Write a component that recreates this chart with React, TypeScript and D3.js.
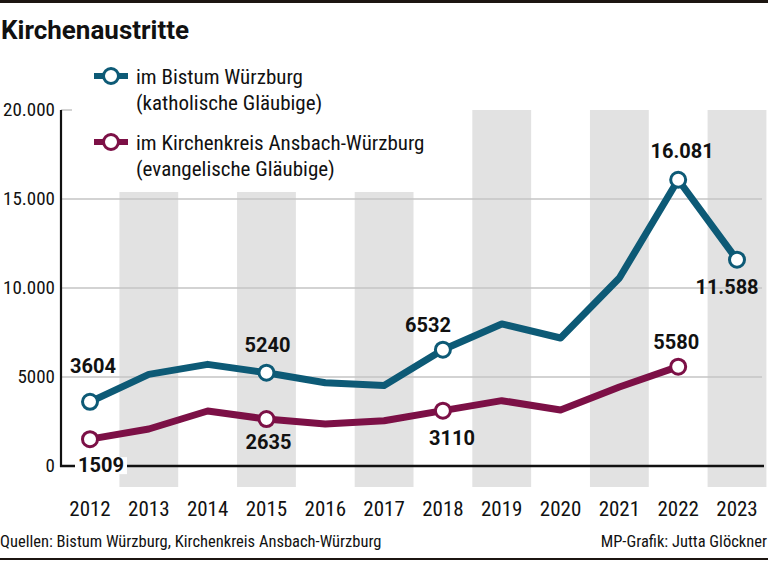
import React, { useEffect } from "react";
import * as d3 from "d3";

const years = [2012, 2013, 2014, 2015, 2016, 2017, 2018, 2019, 2020, 2021, 2022, 2023];
const bistum = [3604, 5150, 5710, 5240, 4680, 4520, 6532, 7980, 7190, 10560, 16081, 11588];
const kirchenkreis = [1509, 2080, 3090, 2635, 2360, 2540, 3110, 3670, 3150, 4440, 5580, null];
const yTicks = [0, 5000, 10000, 15000, 20000];
const bandYears = [2013, 2015, 2017, 2019, 2021, 2023];
const markedBistum = [2012, 2015, 2018, 2022, 2023];
const markedKirche = [2012, 2015, 2018, 2022];
const legendLabels = [
  ["im Bistum Würzburg", "(katholische Gläubige)"],
  ["im Kirchenkreis Ansbach-Würzburg", "(evangelische Gläubige)"],
];
const title = "Kirchenaustritte";
const sourceText = "Quellen: Bistum Würzburg, Kirchenkreis Ansbach-Würzburg";
const creditText = "MP-Grafik: Jutta Glöckner";

const BLUE = "#0d5a76";
const RED = "#7c1046";
const FONT = "'Roboto Condensed', 'Liberation Sans Narrow', Roboto, sans-serif";
const BOLD = "Roboto, 'Liberation Sans', sans-serif";

// label offsets (dx, dy) relative to the point, per series
const blueLabelOffsets: Record<number, [number, number]> = {
  2012: [3, -29],
  2015: [1, -21],
  2018: [-15, -18],
  2022: [4, -22],
  2023: [-10, 34],
};
const redLabelOffsets: Record<number, [number, number]> = {
  2012: [11, 33],
  2015: [2, 30],
  2018: [9, 34],
  2022: [-2, -18],
};

function fmt(v: number) {
  if (v >= 10000) return d3.format(",")(v).replace(/,/g, ".");
  return String(v);
}

export default function App() {
  useEffect(() => {
    document.body.style.margin = "0";
  }, []);
  const W = 768, H = 561;
  const x = d3.scaleLinear().domain([2012, 2023]).range([90, 737]);
  const y = d3.scaleLinear().domain([0, 20000]).range([466, 110]);
  const step = x(2013) - x(2012);

  const line = d3
    .line<[number, number | null]>()
    .defined((d) => d[1] !== null)
    .x((d) => x(d[0]))
    .y((d) => y(d[1] as number));

  const blueData = years.map((yr, i) => [yr, bistum[i]] as [number, number | null]);
  const redData = years.map((yr, i) => [yr, kirchenkreis[i]] as [number, number | null]);

  return (
    <svg width={W} height={H} style={{ display: "block" }}>
      <rect x={0} y={0} width={W} height={H} fill="#fff" />
      <rect x={0} y={0} width={W} height={3} fill="#1c1511" />
      <text x={1} y={39} fontFamily={BOLD} fontWeight={700} fontSize={26} fill="#111">
        {title}
      </text>

      {bandYears.map((yr) => (
        <rect
          key={yr}
          x={x(yr) - step / 2}
          y={yr <= 2017 ? 192 : y(20000)}
          width={step}
          height={487 - (yr <= 2017 ? 192 : y(20000))}
          fill="#e2e2e2"
        />
      ))}

      {yTicks.filter((t) => t > 0 && t < 20000).map((t) => (
        <line key={t} x1={61} x2={762} y1={y(t)} y2={y(t)} stroke="#c4c4c4" strokeWidth={1.5} />
      ))}
      <line x1={61} x2={72} y1={y(20000)} y2={y(20000)} stroke="#c4c4c4" strokeWidth={1.5} />

      {yTicks.map((t) => (
        <text
          key={t}
          x={55}
          y={y(t) + 6}
          textAnchor="end"
          fontFamily={FONT}
          fontSize={19}
          fill="#111"
        >
          {t >= 10000 ? fmt(t) : String(t)}
        </text>
      ))}
      <line x1={61} x2={61} y1={y(20000)} y2={y(0) + 1} stroke="#111" strokeWidth={2.2} />
      <line x1={60} x2={764} y1={y(0)} y2={y(0)} stroke="#111" strokeWidth={2.5} />

      {years.map((yr) => (
        <text key={yr} x={x(yr)} y={516} textAnchor="middle" fontFamily={FONT} fontSize={21} fill="#111">
          {yr}
        </text>
      ))}

      <path d={line(redData) || ""} fill="none" stroke={RED} strokeWidth={7} strokeLinejoin="round" />
      <path d={line(blueData) || ""} fill="none" stroke={BLUE} strokeWidth={7} strokeLinejoin="round" />

      {markedKirche.map((yr) => {
        const v = kirchenkreis[years.indexOf(yr)] as number;
        return <circle key={yr} cx={x(yr)} cy={y(v)} r={7.5} fill="#fff" stroke={RED} strokeWidth={3} />;
      })}
      {markedBistum.map((yr) => {
        const v = bistum[years.indexOf(yr)];
        return <circle key={yr} cx={x(yr)} cy={y(v)} r={7.5} fill="#fff" stroke={BLUE} strokeWidth={3} />;
      })}

      {markedBistum.map((yr) => {
        const v = bistum[years.indexOf(yr)];
        const [dx, dy] = blueLabelOffsets[yr];
        return (
          <text key={yr} x={x(yr) + dx} y={y(v) + dy} textAnchor="middle" fontFamily={BOLD} fontWeight={700} fontSize={20} fill="#111">
            {fmt(v)}
          </text>
        );
      })}
      {markedKirche.map((yr) => {
        const v = kirchenkreis[years.indexOf(yr)] as number;
        const [dx, dy] = redLabelOffsets[yr];
        const tx = x(yr) + dx, ty = y(v) + dy;
        return (
          <g key={yr}>
            {yr === 2012 && <rect x={tx - 26} y={ty - 15} width={52} height={17} fill="#fff" />}
            <text x={tx} y={ty} textAnchor="middle" fontFamily={BOLD} fontWeight={700} fontSize={20} fill="#111">
              {fmt(v)}
            </text>
          </g>
        );
      })}

      {legendLabels.map((lines, i) => {
        const cy = i === 0 ? 76 : 142;
        const col = i === 0 ? BLUE : RED;
        return (
          <g key={i}>
            <line x1={94} x2={128} y1={cy} y2={cy} stroke={col} strokeWidth={6} />
            <circle cx={111} cy={cy} r={7.5} fill="#fff" stroke={col} strokeWidth={3} />
            <text x={136} y={cy + 8} fontFamily={FONT} fontSize={21} fill="#111">
              {lines[0]}
            </text>
            <text x={136} y={cy + 34} fontFamily={FONT} fontSize={21} fill="#111">
              {lines[1]}
            </text>
          </g>
        );
      })}

      <text x={0} y={547} fontFamily={FONT} fontSize={16.5} fill="#111">
        {sourceText}
      </text>
      <text x={767} y={547} textAnchor="end" fontFamily={FONT} fontSize={16.5} fill="#111">
        {creditText}
      </text>
      <rect x={0} y={558} width={W} height={2} fill="#1c1511" />
    </svg>
  );
}
